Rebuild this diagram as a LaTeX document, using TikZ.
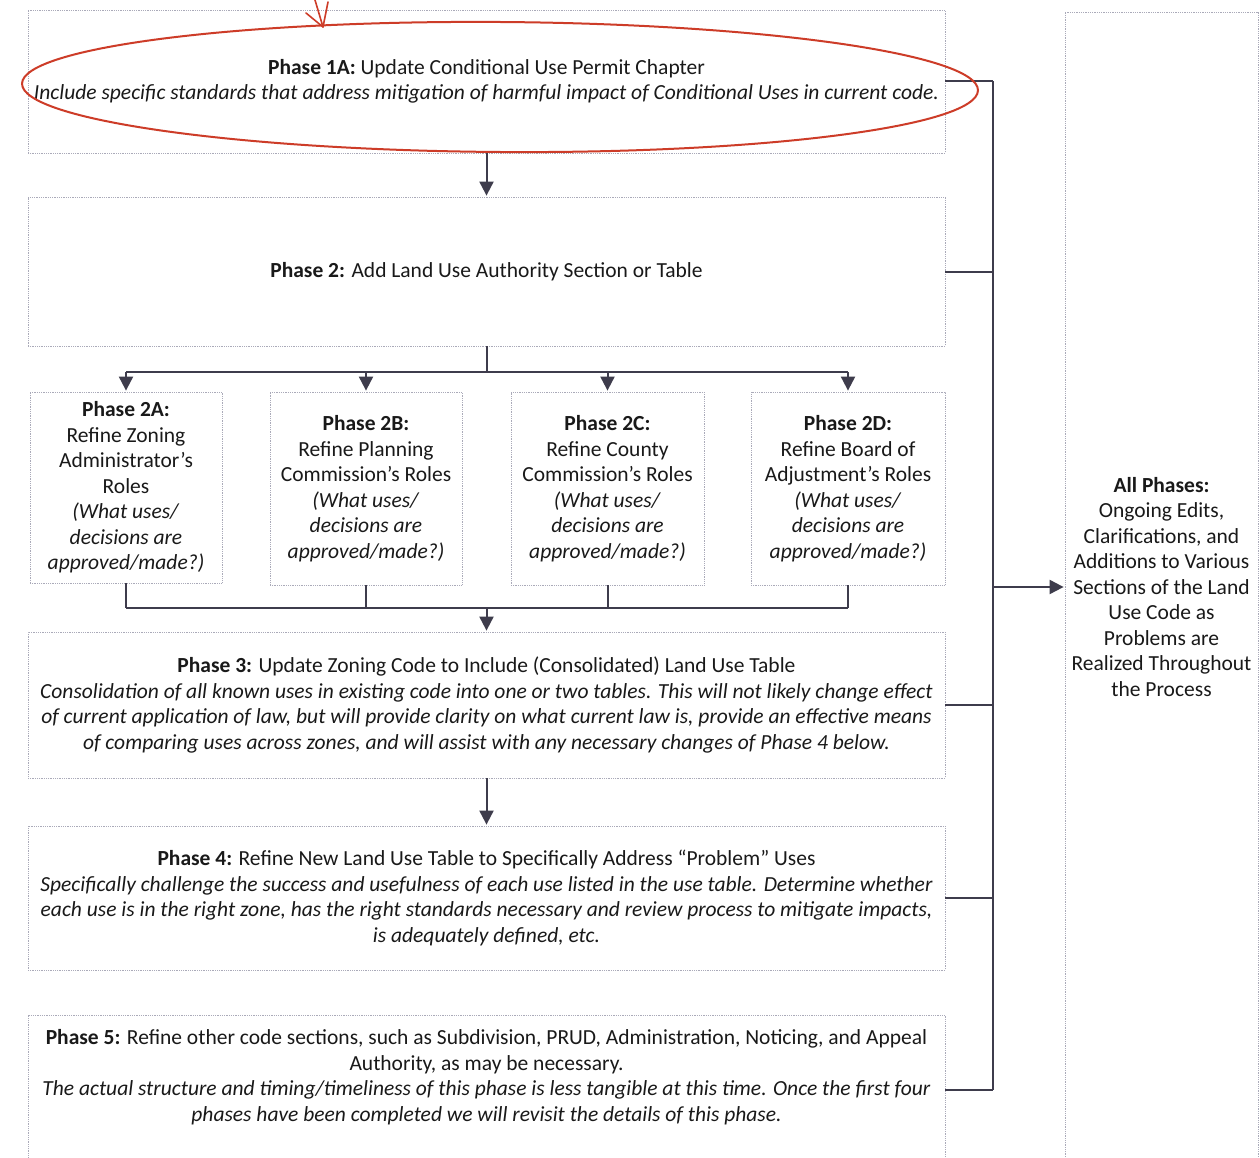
\documentclass[tikz,border=0pt]{standalone}
\usepackage{fontspec}
\setmainfont{Carlito}
\usetikzlibrary{arrows.meta}
\definecolor{lineC}{RGB}{62,60,76}
\definecolor{boxC}{RGB}{170,170,185}
\definecolor{redC}{RGB}{205,60,40}
\definecolor{txtC}{RGB}{25,25,25}
\begin{document}
\begin{tikzpicture}[x=1pt,y=-1pt,
  box/.style={draw=boxC, densely dotted, line width=0.8pt, rectangle, inner sep=0pt, align=center,
    text=txtC, font=\fontsize{21.5}{25.5}\selectfont},
  txt/.style={inner sep=0pt, align=center, text=txtC, font=\fontsize{21.5}{25.5}\selectfont},
  conn/.style={draw=lineC, line width=2pt},
  arr/.style={conn, -{Triangle[width=14pt,length=14pt]}, shorten >=1pt}
]
\useasboundingbox (0,0) rectangle (1260,1158);
\fill[white] (0,0) rectangle (1260,1158);

% boxes
\node[box, minimum width=917pt, minimum height=143pt] (p1) at (486.5,81.5)
  {\textbf{Phase 1A:} Update Conditional Use Permit Chapter\\
   \textit{Include specific standards that address mitigation of harmful impact of Conditional Uses in current code.}};
\node[box, minimum width=917pt, minimum height=149pt] (p2) at (486.5,271.5)
  {\textbf{Phase 2:} Add Land Use Authority Section or Table};

\node[box, minimum width=192pt, minimum height=191pt] (p2a) at (126,487.5)
  {\textbf{Phase 2A:}\\Refine Zoning\\Administrator’s\\Roles\\\textit{(What uses/}\\\textit{decisions are}\\\textit{approved/made?)}};
\node[box, minimum width=192pt, minimum height=193pt] (p2b) at (366,488.5)
  {\textbf{Phase 2B:}\\Refine Planning\\Commission’s Roles\\\textit{(What uses/}\\\textit{decisions are}\\\textit{approved/made?)}};
\node[box, minimum width=193pt, minimum height=193pt] (p2c) at (607.5,488.5)
  {\textbf{Phase 2C:}\\Refine County\\Commission’s Roles\\\textit{(What uses/}\\\textit{decisions are}\\\textit{approved/made?)}};
\node[box, minimum width=194pt, minimum height=193pt] (p2d) at (848,488.5)
  {\textbf{Phase 2D:}\\Refine Board of\\Adjustment’s Roles\\\textit{(What uses/}\\\textit{decisions are}\\\textit{approved/made?)}};

\node[box, minimum width=917pt, minimum height=146pt] (p3) at (486.5,705)
  {\textbf{Phase 3:} Update Zoning Code to Include (Consolidated) Land Use Table\\
   \textit{Consolidation of all known uses in existing code into one or two tables. This will not likely change effect}\\
   \textit{of current application of law, but will provide clarity on what current law is, provide an effective means}\\
   \textit{of comparing uses across zones, and will assist with any necessary changes of Phase 4 below.}};
\node[box, minimum width=917pt, minimum height=144pt] (p4) at (486.5,898)
  {\textbf{Phase 4:} Refine New Land Use Table to Specifically Address “Problem” Uses\\
   \textit{Specifically challenge the success and usefulness of each use listed in the use table. Determine whether}\\
   \textit{each use is in the right zone, has the right standards necessary and review process to mitigate impacts,}\\
   \textit{is adequately defined, etc.}};
\node[box, minimum width=917pt, minimum height=150pt] (p5) at (486.5,1090) {};
\node[txt] (p5t) at (486.5,1077)
  {\textbf{Phase 5:} Refine other code sections, such as Subdivision, PRUD, Administration, Noticing, and Appeal\\
   Authority, as may be necessary.\\
   \textit{The actual structure and timing/timeliness of this phase is less tangible at this time. Once the first four}\\
   \textit{phases have been completed we will revisit the details of this phase.}};

\node[box, minimum width=193pt, minimum height=1150pt] (allp) at (1161.5,587) {};
\node[txt] (allt) at (1161.5,587)
  {\textbf{All Phases:}\\Ongoing Edits,\\Clarifications, and\\Additions to Various\\Sections of the Land\\Use Code as\\Problems are\\Realized Throughout\\the Process};

% vertical flow
\draw[arr] (p1.south) -- (p2.north);
\coordinate (split) at (486.5,372);
\draw[conn] (p2.south) -- (split);
\draw[conn] (p2a.north |- split) -- (p2d.north |- split);
\foreach \n in {p2a,p2b,p2c,p2d}{
  \draw[arr] (\n.north |- split) -- (\n.north);
}
\coordinate (join) at (486.5,608);
\foreach \n in {p2a,p2b,p2c,p2d}{
  \draw[conn] (\n.south) -- (\n.south |- join);
}
\draw[conn] (p2a.south |- join) -- (p2d.south |- join);
\draw[arr] (join) -- (p3.north);
\draw[arr] (p3.south) -- (p4.north);

% right bus
\coordinate (busx) at (993,0);
\foreach \n in {p1,p2,p3,p4,p5}{
  \draw[conn] (\n.east) -- (\n.east -| busx);
}
\draw[conn] (p1.east -| busx) -- (p5.east -| busx);
\draw[arr] (busx |- allp.west) -- (allp.west);

% red hand-drawn annotation
\draw[redC, line width=2pt, rotate around={-0.4:(500,87)}] (500,87) ellipse [x radius=478pt, y radius=65pt];
\coordinate (rtip) at (323,27);
\coordinate (rtop) at (315,0);
\coordinate (rl) at (306,13);
\coordinate (rr) at (328,2);
\draw[redC, line width=1.6pt, line cap=round] (rtop) -- (rtip);
\draw[redC, line width=1.6pt, line cap=round, line join=round] (rl) -- (rtip) -- (rr);
\end{tikzpicture}
\end{document}
